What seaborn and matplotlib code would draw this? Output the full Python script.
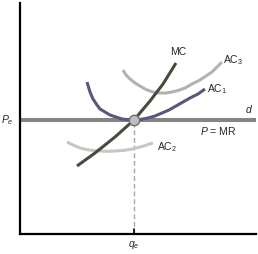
import matplotlib
matplotlib.use("Agg")
import matplotlib.pyplot as plt
import pandas as pd
import seaborn as sns

# curve points (quantity, price)
mc_q = [57, 75, 95, 114, 130, 143, 156]
mc_p = [68, 81, 97, 114, 133, 150, 171]

ac1_q = [67, 70, 73, 77, 80, 85, 90, 96, 102, 108, 114, 121, 128, 135, 142, 149, 156, 163, 170, 178, 185]
ac1_p = [152, 142, 135, 129, 125, 122, 119, 117, 115, 114.3, 114, 114.6, 116, 118, 121, 124, 128, 132, 136, 140, 145]

ac3_q = [103, 106, 110, 115, 120, 125, 130, 135, 140, 146, 152, 158, 165, 172, 180, 186, 192, 197, 202]
ac3_p = [164, 159, 155, 151, 148, 145, 143, 141.5, 141, 141, 142, 143.5, 146, 150, 154, 158, 162, 167, 172]

ac2_q = [47, 53, 60, 69, 78, 87, 95, 104, 112, 122, 133]
ac2_p = [92, 89, 86, 84, 83, 82.7, 83, 83.6, 85, 87.5, 91]

p_e = 114
q_e = 114

sns.set_style("white")
plt.rcParams['font.family'] = ['Liberation Sans', 'DejaVu Sans']
plt.rcParams['mathtext.fontset'] = 'custom'
plt.rcParams['mathtext.rm'] = 'Liberation Sans'
plt.rcParams['mathtext.it'] = 'Liberation Sans:italic'

fig = plt.figure(figsize=(2.58, 2.54), dpi=100)
ax = fig.add_axes([20/258, 20/254, 236/258, 231/254])
ax.set_xlim(0, 236)
ax.set_ylim(0, 231)

# demand / price line
ax.axhline(p_e, color='#858585', lw=2.9, zorder=2)

curves = [
    (ac2_q, ac2_p, '#c4c7c4'),
    (ac3_q, ac3_p, '#b2b2b2'),
    (ac1_q, ac1_p, '#58587c'),
    (mc_q, mc_p, '#4a4a3c'),
]
for q, p, c in curves:
    df = pd.DataFrame({'q': q, 'p': p})
    sns.lineplot(data=df, x='q', y='p', sort=False, estimator=None,
                 color=c, lw=2.2, ax=ax, zorder=3,
                 solid_joinstyle='round', solid_capstyle='butt')

ax.plot([q_e, q_e], [0, p_e], color='#a8a8a8', lw=1, ls=(0, (3.5, 2)), zorder=1)
ax.plot([q_e, q_e], [0, 5], color='black', lw=1.2)
ax.plot([q_e], [p_e], 'o', ms=7.5, mfc='#bdbdbd', mec='#6e6e6e', mew=1, zorder=5)

fs = 7.5
ax.text(158, 182, 'MC', fontsize=fs, ha='center', va='center')
ax.text(203, 174, r'AC$_3$', fontsize=fs, ha='left', va='center')
ax.text(187, 145, r'AC$_1$', fontsize=fs, ha='left', va='center')
ax.text(137, 87, r'AC$_2$', fontsize=fs, ha='left', va='center')
ax.text(229, 124, 'd', fontsize=fs, style='italic', ha='center', va='center')
ax.text(198, 103, r'$P$ = MR', fontsize=fs, ha='center', va='center')
ax.text(-13, 114, r'$P_e$', fontsize=fs, ha='center', va='center', clip_on=False)
ax.text(q_e, -11, r'$q_e$', fontsize=fs, ha='center', va='center', clip_on=False)

ax.set_xticks([])
ax.set_yticks([])
ax.set_xlabel('')
ax.set_ylabel('')
sns.despine(ax=ax)
for s in ['left', 'bottom']:
    ax.spines[s].set_linewidth(1.6)
    ax.spines[s].set_color('black')

fig.savefig('out.png', dpi=100)
